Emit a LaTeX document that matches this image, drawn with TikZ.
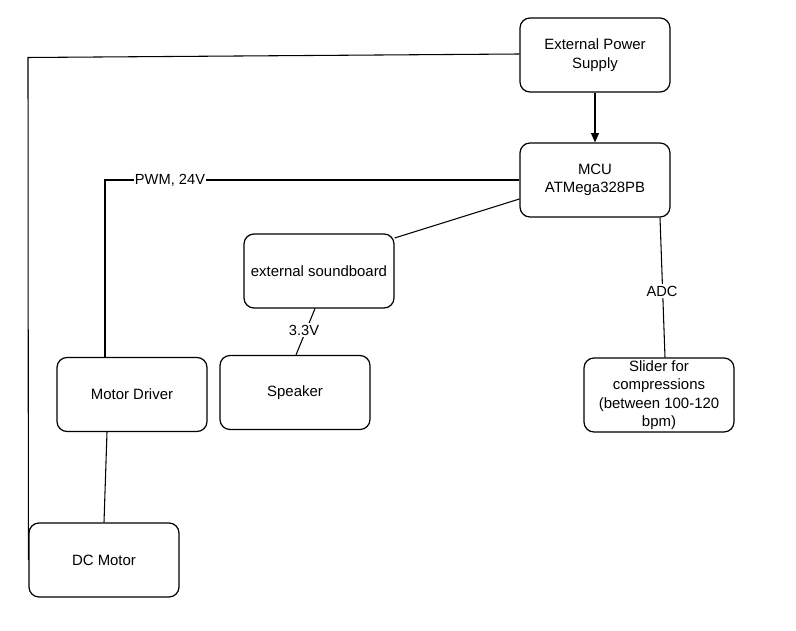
\documentclass[tikz,border=0pt]{standalone}
\usepackage{fontspec}
\setmainfont{Liberation Sans}
\usetikzlibrary{arrows.meta}
\begin{document}
\begin{tikzpicture}[x=0.75pt,y=-0.75pt,
  block/.style={draw=black, rounded corners=7.5pt, line width=0.9pt,
    minimum width=112.5pt, minimum height=55.5pt, inner sep=0pt,
    align=center, font=\fontsize{11.2}{13.8}\selectfont},
  wire/.style={draw=black, line width=0.8pt},
  tag/.style={fill=white, inner sep=1pt, font=\fontsize{11}{12}\selectfont}]
\useasboundingbox (0,0) rectangle (796,631);

% blocks
\node[block] (psu) at (595,55) {External Power\\Supply};
\node[block] (mcu) at (595,180) {MCU\\ATMega328PB};
\node[block] (snd) at (319,271) {external soundboard};
\node[block] (spk) at (295,392.5) {Speaker};
\node[block] (drv) at (132,394.5) {Motor Driver};
\node[block] (sld) at (659,395) {Slider for\\compressions\\(between 100-120\\bpm)};
\node[block] (dcm) at (104,560) {DC Motor};

% bend points
\coordinate (pwrcorner) at (28,57.5);
\coordinate (pwmcorner) at (105,180);

% supply to motor
\draw[wire] (psu.west |- 0,54) -- (pwrcorner) -- (dcm.west |- 0,560);
% supply to MCU
\draw[wire, -{Triangle[length=7pt,width=6pt]}] (psu) -- (mcu);
% PWM to driver
\draw[wire] (mcu.west) -- (pwmcorner) -- (drv.north -| pwmcorner);
\node[tag] (pwm) at (170,180) {PWM, 24V};
% MCU to soundboard
\draw[wire] (mcu.west |- 0,199) -- (snd.north east |- 0,238);
% soundboard to speaker
\draw[wire] (snd.south -| 315,0) -- (spk.north -| 296,0);
\node[tag] (v33) at (304,330) {3.3V};
% MCU to slider
\draw[wire] (mcu.south -| 660,0) -- (sld.north -| 665,0);
\node[tag] (adc) at (662,291) {ADC};
% driver to DC motor
\draw[wire] (drv.south -| 107,0) -- (dcm.north -| 104,0);
\end{tikzpicture}
\end{document}
